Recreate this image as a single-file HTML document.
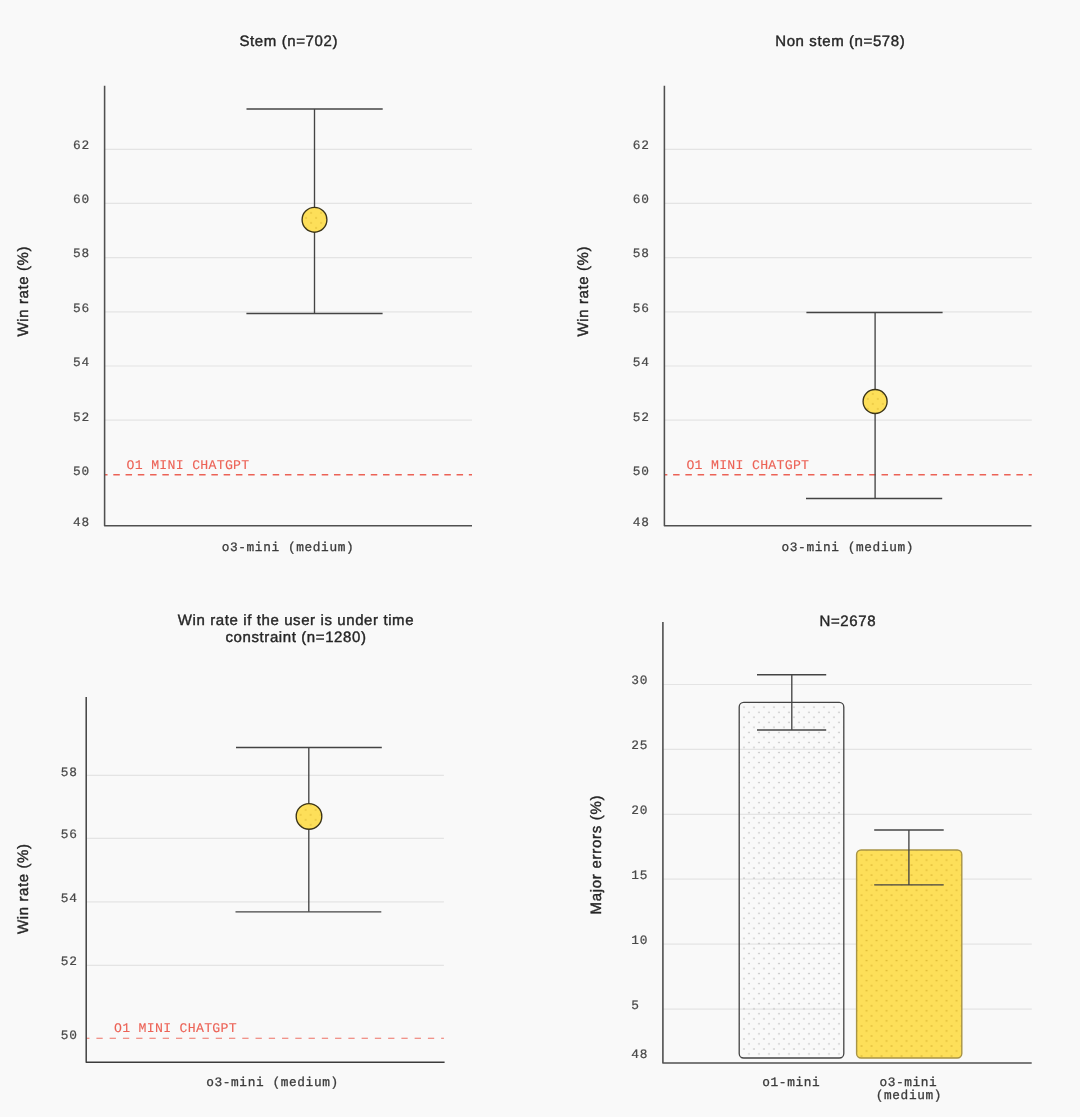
<!DOCTYPE html>
<html lang="en">
<head>
<meta charset="utf-8">
<title>o3-mini human preference evaluation</title>
<style>
  html, body { margin: 0; padding: 0; background: #f9f9f9; }
  body { width: 1080px; height: 1117px; overflow: hidden; }
  svg { display: block; will-change: transform; }
  text { text-rendering: geometricPrecision; }
  .m { font-family: "Liberation Mono", monospace; }
  .s { font-family: "Liberation Sans", sans-serif; }
</style>
</head>
<body>
<svg width="1080" height="1117" viewBox="0 0 1080 1117">
<defs>
  <pattern id="pgray" x="743.9" y="707.2" width="10" height="10.05" patternUnits="userSpaceOnUse">
    <rect x="-0.6" y="-0.6" width="1.3" height="1.3" fill="#b4b4b4"/>
    <rect x="9.4" y="-0.6" width="1.3" height="1.3" fill="#b4b4b4"/>
    <rect x="-0.6" y="9.45" width="1.3" height="1.3" fill="#b4b4b4"/>
    <rect x="9.4" y="9.45" width="1.3" height="1.3" fill="#b4b4b4"/>
    <rect x="4.4" y="4.42" width="1.3" height="1.3" fill="#b4b4b4"/>
  </pattern>
  <pattern id="pyel" x="861.5" y="855" width="10" height="10.05" patternUnits="userSpaceOnUse">
    <rect x="-0.6" y="-0.6" width="1.3" height="1.3" fill="#d2ab28"/>
    <rect x="9.4" y="-0.6" width="1.3" height="1.3" fill="#d2ab28"/>
    <rect x="-0.6" y="9.45" width="1.3" height="1.3" fill="#d2ab28"/>
    <rect x="9.4" y="9.45" width="1.3" height="1.3" fill="#d2ab28"/>
    <rect x="4.4" y="4.42" width="1.3" height="1.3" fill="#d2ab28"/>
  </pattern>
  <pattern id="pdot1" x="311.1" y="212.9" width="10" height="10" patternUnits="userSpaceOnUse"><rect x="-0.60" y="-0.60" width="1.2" height="1.2" fill="#d2ab28"/><rect x="9.40" y="-0.60" width="1.2" height="1.2" fill="#d2ab28"/><rect x="-0.60" y="9.40" width="1.2" height="1.2" fill="#d2ab28"/><rect x="9.40" y="9.40" width="1.2" height="1.2" fill="#d2ab28"/><rect x="4.40" y="4.40" width="1.2" height="1.2" fill="#d2ab28"/></pattern>
  <pattern id="pdot2" x="872.8" y="393.9" width="10" height="10" patternUnits="userSpaceOnUse"><rect x="-0.60" y="-0.60" width="1.2" height="1.2" fill="#d2ab28"/><rect x="9.40" y="-0.60" width="1.2" height="1.2" fill="#d2ab28"/><rect x="-0.60" y="9.40" width="1.2" height="1.2" fill="#d2ab28"/><rect x="9.40" y="9.40" width="1.2" height="1.2" fill="#d2ab28"/><rect x="4.40" y="4.40" width="1.2" height="1.2" fill="#d2ab28"/></pattern>
  <pattern id="pdot3" x="310.65" y="814.85" width="10" height="10" patternUnits="userSpaceOnUse"><rect x="-0.60" y="-0.60" width="1.2" height="1.2" fill="#d2ab28"/><rect x="9.40" y="-0.60" width="1.2" height="1.2" fill="#d2ab28"/><rect x="-0.60" y="9.40" width="1.2" height="1.2" fill="#d2ab28"/><rect x="9.40" y="9.40" width="1.2" height="1.2" fill="#d2ab28"/><rect x="4.40" y="4.40" width="1.2" height="1.2" fill="#d2ab28"/></pattern>
</defs>
<rect width="1080" height="1117" fill="#f9f9f9"/>

<line x1="104.6" y1="149.3" x2="472" y2="149.3" stroke="#e4e4e4" stroke-width="1.2" />
<line x1="104.6" y1="203.4" x2="472" y2="203.4" stroke="#e4e4e4" stroke-width="1.2" />
<line x1="104.6" y1="257.6" x2="472" y2="257.6" stroke="#e4e4e4" stroke-width="1.2" />
<line x1="104.6" y1="311.8" x2="472" y2="311.8" stroke="#e4e4e4" stroke-width="1.2" />
<line x1="104.6" y1="366.0" x2="472" y2="366.0" stroke="#e4e4e4" stroke-width="1.2" />
<line x1="104.6" y1="420.2" x2="472" y2="420.2" stroke="#e4e4e4" stroke-width="1.2" />
<line x1="104.6" y1="474.8" x2="472" y2="474.8" stroke="#ec6256" stroke-width="1.6" stroke-dasharray="6.5 5.76" stroke-dashoffset="3.56"/>
<text x="73.0" y="148.75" class="m" text-anchor="start" fill="#4a4a4a" stroke="#4a4a4a" stroke-width="0.22" font-size="12.8" letter-spacing="0.7">62</text>
<text x="73.0" y="203.1" class="m" text-anchor="start" fill="#4a4a4a" stroke="#4a4a4a" stroke-width="0.22" font-size="12.8" letter-spacing="0.7">60</text>
<text x="73.0" y="257.45" class="m" text-anchor="start" fill="#4a4a4a" stroke="#4a4a4a" stroke-width="0.22" font-size="12.8" letter-spacing="0.7">58</text>
<text x="73.0" y="311.8" class="m" text-anchor="start" fill="#4a4a4a" stroke="#4a4a4a" stroke-width="0.22" font-size="12.8" letter-spacing="0.7">56</text>
<text x="73.0" y="366.15" class="m" text-anchor="start" fill="#4a4a4a" stroke="#4a4a4a" stroke-width="0.22" font-size="12.8" letter-spacing="0.7">54</text>
<text x="73.0" y="420.5" class="m" text-anchor="start" fill="#4a4a4a" stroke="#4a4a4a" stroke-width="0.22" font-size="12.8" letter-spacing="0.7">52</text>
<text x="73.0" y="474.85" class="m" text-anchor="start" fill="#4a4a4a" stroke="#4a4a4a" stroke-width="0.22" font-size="12.8" letter-spacing="0.7">50</text>
<text x="73.0" y="525.8" class="m" text-anchor="start" fill="#4a4a4a" stroke="#4a4a4a" stroke-width="0.22" font-size="12.8" letter-spacing="0.7">48</text>
<text x="126.6" y="469.4" class="m" text-anchor="start" fill="#ec6256" stroke="#ec6256" stroke-width="0.12" font-size="13.2" letter-spacing="0.28">O1 MINI CHATGPT</text>
<line x1="246.5" y1="109" x2="382.7" y2="109" stroke="#444444" stroke-width="1.35" />
<line x1="246.4" y1="313.5" x2="382.59999999999997" y2="313.5" stroke="#444444" stroke-width="1.35" />
<line x1="314.5" y1="109" x2="314.5" y2="313.5" stroke="#444444" stroke-width="1.35" />
<circle cx="314.5" cy="219.8" r="12.4" fill="#fddf59"/>
<circle cx="314.5" cy="219.8" r="12.4" fill="url(#pdot1)" stroke="#3b3418" stroke-width="1.35"/>
<path d="M104.6 85.8 V525.8 H472" fill="none" stroke="#505050" stroke-width="1.55" stroke-linejoin="round"/>
<text x="288.75" y="45.9" class="s" text-anchor="middle" fill="#262626" stroke="#262626" stroke-width="0.4" font-size="15" letter-spacing="0.6" >Stem (n=702)</text>
<text x="288" y="550.8" class="m" text-anchor="middle" fill="#3c3c3c" stroke="#3c3c3c" stroke-width="0.3" font-size="12.8" letter-spacing="0.6">o3-mini (medium)</text>
<text x="0" y="0" class="s" text-anchor="middle" fill="#262626" stroke="#262626" stroke-width="0.4" font-size="15" letter-spacing="0.6" transform="translate(27.8 291.2) rotate(-90)">Win rate (%)</text>
<line x1="664.4" y1="149.3" x2="1031.8" y2="149.3" stroke="#e4e4e4" stroke-width="1.2" />
<line x1="664.4" y1="203.4" x2="1031.8" y2="203.4" stroke="#e4e4e4" stroke-width="1.2" />
<line x1="664.4" y1="257.6" x2="1031.8" y2="257.6" stroke="#e4e4e4" stroke-width="1.2" />
<line x1="664.4" y1="311.8" x2="1031.8" y2="311.8" stroke="#e4e4e4" stroke-width="1.2" />
<line x1="664.4" y1="366.0" x2="1031.8" y2="366.0" stroke="#e4e4e4" stroke-width="1.2" />
<line x1="664.4" y1="420.2" x2="1031.8" y2="420.2" stroke="#e4e4e4" stroke-width="1.2" />
<line x1="664.4" y1="474.8" x2="1031.8" y2="474.8" stroke="#ec6256" stroke-width="1.6" stroke-dasharray="6.5 5.76" stroke-dashoffset="3.56"/>
<text x="632.8" y="148.75" class="m" text-anchor="start" fill="#4a4a4a" stroke="#4a4a4a" stroke-width="0.22" font-size="12.8" letter-spacing="0.7">62</text>
<text x="632.8" y="203.1" class="m" text-anchor="start" fill="#4a4a4a" stroke="#4a4a4a" stroke-width="0.22" font-size="12.8" letter-spacing="0.7">60</text>
<text x="632.8" y="257.45" class="m" text-anchor="start" fill="#4a4a4a" stroke="#4a4a4a" stroke-width="0.22" font-size="12.8" letter-spacing="0.7">58</text>
<text x="632.8" y="311.8" class="m" text-anchor="start" fill="#4a4a4a" stroke="#4a4a4a" stroke-width="0.22" font-size="12.8" letter-spacing="0.7">56</text>
<text x="632.8" y="366.15" class="m" text-anchor="start" fill="#4a4a4a" stroke="#4a4a4a" stroke-width="0.22" font-size="12.8" letter-spacing="0.7">54</text>
<text x="632.8" y="420.5" class="m" text-anchor="start" fill="#4a4a4a" stroke="#4a4a4a" stroke-width="0.22" font-size="12.8" letter-spacing="0.7">52</text>
<text x="632.8" y="474.85" class="m" text-anchor="start" fill="#4a4a4a" stroke="#4a4a4a" stroke-width="0.22" font-size="12.8" letter-spacing="0.7">50</text>
<text x="632.8" y="525.8" class="m" text-anchor="start" fill="#4a4a4a" stroke="#4a4a4a" stroke-width="0.22" font-size="12.8" letter-spacing="0.7">48</text>
<text x="686.4" y="469.4" class="m" text-anchor="start" fill="#ec6256" stroke="#ec6256" stroke-width="0.12" font-size="13.2" letter-spacing="0.28">O1 MINI CHATGPT</text>
<line x1="806.4" y1="312.5" x2="942.6" y2="312.5" stroke="#444444" stroke-width="1.35" />
<line x1="806.0" y1="498.5" x2="942.2" y2="498.5" stroke="#444444" stroke-width="1.35" />
<line x1="875.1" y1="312.5" x2="875.1" y2="498.5" stroke="#444444" stroke-width="1.35" />
<circle cx="875.1" cy="401.5" r="12.0" fill="#fddf59"/>
<circle cx="875.1" cy="401.5" r="12.0" fill="url(#pdot2)" stroke="#3b3418" stroke-width="1.35"/>
<path d="M664.4 85.8 V525.8 H1031.5" fill="none" stroke="#505050" stroke-width="1.55" stroke-linejoin="round"/>
<text x="840.3" y="45.9" class="s" text-anchor="middle" fill="#262626" stroke="#262626" stroke-width="0.4" font-size="15" letter-spacing="0.6" >Non stem (n=578)</text>
<text x="847.8" y="550.8" class="m" text-anchor="middle" fill="#3c3c3c" stroke="#3c3c3c" stroke-width="0.3" font-size="12.8" letter-spacing="0.6">o3-mini (medium)</text>
<text x="0" y="0" class="s" text-anchor="middle" fill="#262626" stroke="#262626" stroke-width="0.4" font-size="15" letter-spacing="0.6" transform="translate(587.5999999999999 291.2) rotate(-90)">Win rate (%)</text>
<line x1="86.2" y1="775.3" x2="443.9" y2="775.3" stroke="#e4e4e4" stroke-width="1.2" />
<line x1="86.2" y1="838.4" x2="443.9" y2="838.4" stroke="#e4e4e4" stroke-width="1.2" />
<line x1="86.2" y1="901.8" x2="443.9" y2="901.8" stroke="#e4e4e4" stroke-width="1.2" />
<line x1="86.2" y1="965.3" x2="443.9" y2="965.3" stroke="#e4e4e4" stroke-width="1.2" />
<line x1="86.2" y1="1038.3" x2="443.9" y2="1038.3" stroke="#ee7166" stroke-width="1.1" stroke-dasharray="6.3 6.96" stroke-dashoffset="3.06"/>
<text x="60.8" y="775.6" class="m" text-anchor="start" fill="#4a4a4a" stroke="#4a4a4a" stroke-width="0.22" font-size="12.8" letter-spacing="0.7">58</text>
<text x="60.8" y="838.3" class="m" text-anchor="start" fill="#4a4a4a" stroke="#4a4a4a" stroke-width="0.22" font-size="12.8" letter-spacing="0.7">56</text>
<text x="60.8" y="901.7" class="m" text-anchor="start" fill="#4a4a4a" stroke="#4a4a4a" stroke-width="0.22" font-size="12.8" letter-spacing="0.7">54</text>
<text x="60.8" y="965.0" class="m" text-anchor="start" fill="#4a4a4a" stroke="#4a4a4a" stroke-width="0.22" font-size="12.8" letter-spacing="0.7">52</text>
<text x="60.8" y="1039.1" class="m" text-anchor="start" fill="#4a4a4a" stroke="#4a4a4a" stroke-width="0.22" font-size="12.8" letter-spacing="0.7">50</text>
<text x="114" y="1031.8" class="m" text-anchor="start" fill="#ec6256" stroke="#ec6256" stroke-width="0.12" font-size="13.2" letter-spacing="0.28">O1 MINI CHATGPT</text>
<line x1="236.0" y1="747.5" x2="381.8" y2="747.5" stroke="#444444" stroke-width="1.35" />
<line x1="235.5" y1="911.8" x2="381.3" y2="911.8" stroke="#444444" stroke-width="1.35" />
<line x1="308.8" y1="747.5" x2="308.8" y2="911.8" stroke="#444444" stroke-width="1.35" />
<circle cx="309" cy="816.4" r="12.8" fill="#fddf59"/>
<circle cx="309" cy="816.4" r="12.8" fill="url(#pdot3)" stroke="#3b3418" stroke-width="1.35"/>
<path d="M86.2 697 V1062.3 H444.6" fill="none" stroke="#3c3c3c" stroke-width="1.45" stroke-linejoin="round"/>
<text x="296" y="625.4" class="s" text-anchor="middle" fill="#262626" stroke="#262626" stroke-width="0.4" font-size="15" letter-spacing="0.6" >Win rate if the user is under time</text>
<text x="296" y="641.5" class="s" text-anchor="middle" fill="#262626" stroke="#262626" stroke-width="0.4" font-size="15" letter-spacing="0.6" >constraint (n=1280)</text>
<text x="272.5" y="1085.6" class="m" text-anchor="middle" fill="#3c3c3c" stroke="#3c3c3c" stroke-width="0.3" font-size="12.8" letter-spacing="0.6">o3-mini (medium)</text>
<text x="0" y="0" class="s" text-anchor="middle" fill="#262626" stroke="#262626" stroke-width="0.4" font-size="15" letter-spacing="0.6" transform="translate(27.8 888.7) rotate(-90)">Win rate (%)</text>
<line x1="663" y1="684.5" x2="1031.8" y2="684.5" stroke="#e4e4e4" stroke-width="1.2" />
<line x1="663" y1="749.4" x2="1031.8" y2="749.4" stroke="#e4e4e4" stroke-width="1.2" />
<line x1="663" y1="814.3" x2="1031.8" y2="814.3" stroke="#e4e4e4" stroke-width="1.2" />
<line x1="663" y1="879.2" x2="1031.8" y2="879.2" stroke="#e4e4e4" stroke-width="1.2" />
<line x1="663" y1="944.1" x2="1031.8" y2="944.1" stroke="#e4e4e4" stroke-width="1.2" />
<line x1="663" y1="1009.1" x2="1031.8" y2="1009.1" stroke="#e4e4e4" stroke-width="1.2" />
<rect x="856.6" y="850" width="105.2" height="208" rx="4.5" fill="#fddf59"/>
<rect x="856.6" y="850" width="105.2" height="208" rx="4.5" fill="url(#pyel)" stroke="#a89446" stroke-width="1.4"/>
<rect x="739.2" y="702.4" width="104.6" height="355.6" rx="4.5" fill="url(#pgray)" stroke="#444444" stroke-width="1.3"/>
<line x1="757" y1="674.7" x2="826.2" y2="674.7" stroke="#444444" stroke-width="1.35" />
<line x1="757" y1="730" x2="826.2" y2="730" stroke="#444444" stroke-width="1.35" />
<line x1="791.8" y1="674.7" x2="791.8" y2="730" stroke="#444444" stroke-width="1.35" />
<line x1="874.2" y1="830" x2="943.7" y2="830" stroke="#444444" stroke-width="1.35" />
<line x1="874.2" y1="884.9" x2="943.7" y2="884.9" stroke="#444444" stroke-width="1.35" />
<line x1="908.9" y1="830" x2="908.9" y2="884.9" stroke="#444444" stroke-width="1.35" />
<text x="631.3" y="683.9" class="m" text-anchor="start" fill="#4a4a4a" stroke="#4a4a4a" stroke-width="0.22" font-size="12.8" letter-spacing="0.7">30</text>
<text x="631.3" y="748.8" class="m" text-anchor="start" fill="#4a4a4a" stroke="#4a4a4a" stroke-width="0.22" font-size="12.8" letter-spacing="0.7">25</text>
<text x="631.3" y="813.7" class="m" text-anchor="start" fill="#4a4a4a" stroke="#4a4a4a" stroke-width="0.22" font-size="12.8" letter-spacing="0.7">20</text>
<text x="631.3" y="878.6" class="m" text-anchor="start" fill="#4a4a4a" stroke="#4a4a4a" stroke-width="0.22" font-size="12.8" letter-spacing="0.7">15</text>
<text x="631.3" y="943.5" class="m" text-anchor="start" fill="#4a4a4a" stroke="#4a4a4a" stroke-width="0.22" font-size="12.8" letter-spacing="0.7">10</text>
<text x="631.3" y="1008.5" class="m" text-anchor="start" fill="#4a4a4a" stroke="#4a4a4a" stroke-width="0.22" font-size="12.8" letter-spacing="0.7">5</text>
<text x="631.3" y="1058.3" class="m" text-anchor="start" fill="#4a4a4a" stroke="#4a4a4a" stroke-width="0.22" font-size="12.8" letter-spacing="0.7">48</text>
<path d="M662.9 622 V1063.0 H1031.7" fill="none" stroke="#505050" stroke-width="1.6" stroke-linejoin="round"/>
<text x="847.8" y="625.5" class="s" text-anchor="middle" fill="#262626" stroke="#262626" stroke-width="0.4" font-size="15" letter-spacing="0.6" >N=2678</text>
<text x="791.3" y="1085.6" class="m" text-anchor="middle" fill="#3c3c3c" stroke="#3c3c3c" stroke-width="0.3" font-size="12.8" letter-spacing="0.6">o1-mini</text>
<text x="908.4" y="1085.6" class="m" text-anchor="middle" fill="#3c3c3c" stroke="#3c3c3c" stroke-width="0.3" font-size="12.8" letter-spacing="0.6">o3-mini</text>
<text x="908.9" y="1098.9" class="m" text-anchor="middle" fill="#3c3c3c" stroke="#3c3c3c" stroke-width="0.3" font-size="12.8" letter-spacing="0.6">(medium)</text>
<text x="0" y="0" class="s" text-anchor="middle" fill="#262626" stroke="#262626" stroke-width="0.4" font-size="15" letter-spacing="0.72" transform="translate(601.0 854.6) rotate(-90)">Major errors (%)</text>
</svg>
</body>
</html>
